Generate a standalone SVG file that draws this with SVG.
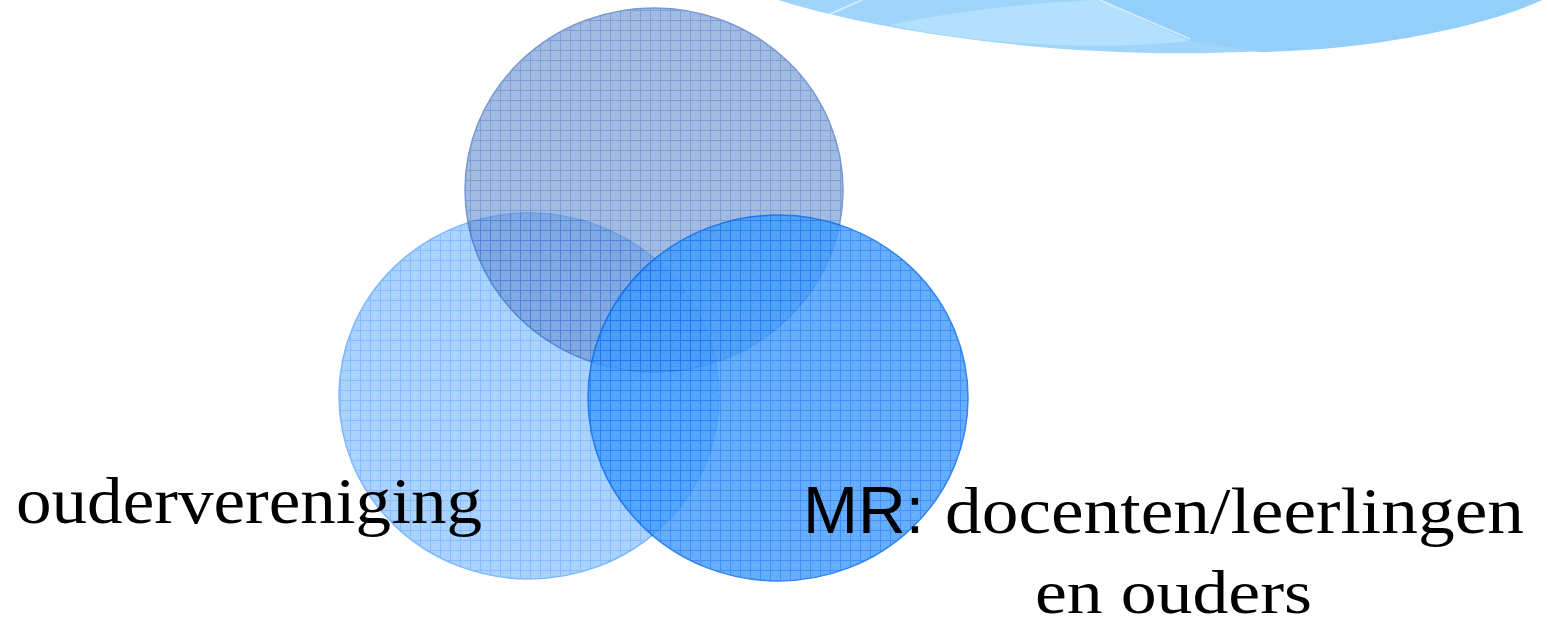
<svg xmlns="http://www.w3.org/2000/svg" width="1548" height="627" viewBox="0 0 1548 627">
  <style>
    .serif { font-family: "Liberation Serif", "DejaVu Serif", serif; fill: #000; }
    .sans { font-family: "Liberation Sans", Arial, sans-serif; fill: #000; }
  </style>
  <defs>
    <pattern id="gridTop" patternUnits="userSpaceOnUse" width="10" height="10">
      <rect width="10" height="10" fill="#668ed2"/>
      <rect x="2" y="2" width="2" height="2" fill="#5a84cc" opacity="0.5"/>
      <rect x="6" y="6" width="2" height="2" fill="#5a84cc" opacity="0.5"/>
      <path d="M0,0.5 H10 M0.5,0 V10" stroke="#2a5fbb" stroke-width="1"/>
    </pattern>
    <pattern id="gridLeft" patternUnits="userSpaceOnUse" width="10" height="10">
      <rect width="10" height="10" fill="#75b7ff"/>
      <rect x="2" y="2" width="2" height="2" fill="#5aa8ff" opacity="0.5"/>
      <rect x="6" y="6" width="2" height="2" fill="#5aa8ff" opacity="0.5"/>
      <path d="M0,0.5 H10 M0.5,0 V10" stroke="#3891ff" stroke-width="1"/>
    </pattern>
    <pattern id="gridRight" patternUnits="userSpaceOnUse" width="10" height="10">
      <rect width="10" height="10" fill="#409cff"/>
      <rect x="2" y="2" width="2" height="2" fill="#2f90fb" opacity="0.5"/>
      <rect x="6" y="6" width="2" height="2" fill="#2f90fb" opacity="0.5"/>
      <path d="M0,0.5 H10 M0.5,0 V10" stroke="#1475f3" stroke-width="1"/>
    </pattern>
  </defs>

  <rect width="1548" height="627" fill="#ffffff"/>

  <g id="banner">
    <path d="M778,0 C 880,32 1050,56 1210,53 C 1370,50 1480,28 1542,0 Z" fill="#9fd5fa"/>
    <path d="M890,25 C 960,10 1040,2 1100,0 L 1190,41 C 1100,51 980,45 890,25 Z" fill="#b3e0fc"/>
    <path d="M1100,0 L 1542,0 C 1480,28 1370,50 1260,52 L 1190,41 Z" fill="#93cff9"/>
    <path d="M830,14 L 862,0 M1100,0 L 1190,39" stroke="#ffffff" stroke-width="1.5" opacity="0.6" fill="none"/>
  </g>

  <g id="circle-left" opacity="0.6">
    <ellipse cx="529" cy="396" rx="190" ry="183" fill="url(#gridLeft)" stroke="#2a8aff" stroke-width="1.5"/>
  </g>
  <g id="circle-top" opacity="0.6">
    <ellipse cx="654" cy="190" rx="189" ry="182" fill="url(#gridTop)" stroke="#1d55b5" stroke-width="1.5"/>
  </g>
  <g id="circle-right" opacity="0.8">
    <ellipse cx="778" cy="398" rx="190" ry="183" fill="url(#gridRight)" stroke="#0068f1" stroke-width="1.5"/>
  </g>

  <g id="label-ouder">
    <text class="serif" x="16" y="523" font-size="66" textLength="466" lengthAdjust="spacingAndGlyphs">oudervereniging</text>
  </g>
  <g id="label-mr">
    <text class="sans" x="803" y="533" font-size="66">MR:</text>
    <text class="serif" x="945" y="533" font-size="66" textLength="579" lengthAdjust="spacingAndGlyphs">docenten/leerlingen</text>
    <text class="serif" x="1035" y="613" font-size="62" textLength="277" lengthAdjust="spacingAndGlyphs">en ouders</text>
  </g>
</svg>
